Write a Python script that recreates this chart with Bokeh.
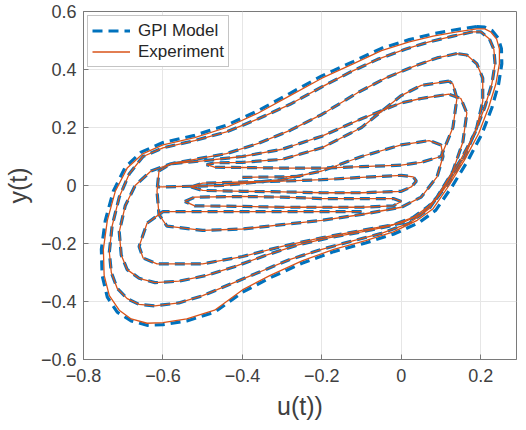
from bokeh.plotting import figure
from bokeh.models import Range1d, FixedTicker, Legend, LegendItem
from bokeh.embed import file_html
from bokeh.resources import INLINE

# ---- data (u(t), y(t)) ----
# outermost loop (experiment)
u1 = [0.19, 0.14, 0.08, 0.02, -0.05, -0.12, -0.2, -0.28, -0.36, -0.44, -0.52, -0.6, -0.65, -0.69, -0.72,
      -0.74, -0.75, -0.748, -0.735, -0.71, -0.68, -0.64, -0.6, -0.54, -0.47, -0.4, -0.33, -0.25, -0.17,
      -0.09, -0.02, 0.04, 0.08, 0.12, 0.16, 0.195, 0.22, 0.238, 0.247, 0.247, 0.24, 0.225, 0.21, 0.19]
y1 = [0.54, 0.53, 0.515, 0.495, 0.465, 0.42, 0.37, 0.31, 0.25, 0.2, 0.165, 0.14, 0.11, 0.06, -0.02,
      -0.12, -0.22, -0.31, -0.38, -0.43, -0.46, -0.475, -0.473, -0.46, -0.43, -0.36, -0.31, -0.26, -0.22,
      -0.19, -0.16, -0.12, -0.08, 0.0, 0.09, 0.18, 0.27, 0.35, 0.42, 0.47, 0.505, 0.53, 0.54, 0.54]
# outermost loop (GPI model, slightly outside the experiment)
gu1 = [0.19, 0.14, 0.08, 0.02, -0.05, -0.12, -0.2, -0.28, -0.36, -0.44, -0.52, -0.6, -0.655, -0.695, -0.725,
       -0.745, -0.755, -0.753, -0.74, -0.715, -0.68, -0.64, -0.6, -0.54, -0.47, -0.4, -0.33, -0.25, -0.17,
       -0.09, -0.02, 0.045, 0.087, 0.128, 0.168, 0.203, 0.228, 0.245, 0.253, 0.252, 0.244, 0.228, 0.21, 0.19]
gy1 = [0.548, 0.538, 0.523, 0.503, 0.473, 0.428, 0.378, 0.318, 0.258, 0.208, 0.173, 0.148, 0.115, 0.063, -0.02,
       -0.12, -0.22, -0.31, -0.385, -0.437, -0.467, -0.482, -0.48, -0.467, -0.437, -0.368, -0.318, -0.268,
       -0.228, -0.198, -0.168, -0.128, -0.085, -0.003, 0.087, 0.178, 0.268, 0.35, 0.42, 0.472, 0.508, 0.535,
       0.546, 0.548]
# second loop
u2 = [0.18, 0.13, 0.07, 0.01, -0.06, -0.13, -0.2, -0.28, -0.36, -0.44, -0.52, -0.6, -0.65, -0.685, -0.71,
      -0.728, -0.735, -0.73, -0.715, -0.69, -0.66, -0.62, -0.56, -0.5, -0.43, -0.36, -0.28, -0.2, -0.12,
      -0.05, 0.02, 0.07, 0.11, 0.15, 0.185, 0.21, 0.228, 0.236, 0.233, 0.222, 0.2, 0.18]
y2 = [0.53, 0.515, 0.495, 0.47, 0.435, 0.39, 0.34, 0.28, 0.23, 0.185, 0.155, 0.13, 0.1, 0.04, -0.04,
      -0.14, -0.23, -0.3, -0.355, -0.39, -0.41, -0.415, -0.405, -0.38, -0.34, -0.3, -0.255, -0.22, -0.19,
      -0.165, -0.13, -0.08, 0.0, 0.09, 0.18, 0.27, 0.35, 0.42, 0.47, 0.505, 0.53, 0.53]
# third loop
u3 = [0.14, 0.09, 0.03, -0.04, -0.11, -0.2, -0.28, -0.36, -0.44, -0.52, -0.58, -0.63, -0.67, -0.695, -0.71,
      -0.705, -0.69, -0.66, -0.62, -0.56, -0.49, -0.42, -0.34, -0.26, -0.18, -0.1, -0.03, 0.03, 0.08, 0.12,
      0.16, 0.19, 0.205, 0.205, 0.19, 0.165, 0.14]
y3 = [0.455, 0.44, 0.41, 0.37, 0.32, 0.245, 0.19, 0.145, 0.11, 0.09, 0.075, 0.05, 0.0, -0.07, -0.16,
      -0.24, -0.29, -0.32, -0.335, -0.33, -0.31, -0.28, -0.24, -0.205, -0.18, -0.16, -0.14, -0.11, -0.06,
      0.01, 0.1, 0.2, 0.29, 0.37, 0.42, 0.45, 0.455]
# fourth path (starts in the middle, inner loops on the left)
u4 = [-0.1, -0.3, -0.5, -0.6, -0.64, -0.66, -0.65, -0.615, -0.5, -0.4, -0.3, -0.2, -0.1, 0.0, 0.05, 0.09,
      0.13, 0.155, 0.165, 0.15, 0.12, 0.05, 0.0, -0.1, -0.2, -0.3, -0.4, -0.5, -0.58, -0.61, -0.615, -0.61,
      -0.59, -0.5, -0.4, -0.3, -0.2, -0.1, 0.0, 0.05, 0.09, 0.105, 0.1, 0.07, 0.0, -0.1, -0.2, -0.3, -0.45,
      -0.6, -0.615]
y4 = [-0.09, -0.09, -0.09, -0.09, -0.13, -0.21, -0.25, -0.27, -0.27, -0.245, -0.21, -0.18, -0.155, -0.13,
      -0.1, -0.04, 0.05, 0.15, 0.25, 0.3, 0.315, 0.3, 0.285, 0.23, 0.17, 0.125, 0.1, 0.085, 0.075, 0.05,
      -0.02, -0.1, -0.14, -0.155, -0.15, -0.135, -0.12, -0.1, -0.075, -0.04, 0.03, 0.1, 0.14, 0.155, 0.14,
      0.1, 0.05, 0.02, 0.0, -0.005, -0.005]
# loop turning at u = -0.49
u5 = [0.12, 0.05, 0.0, -0.1, -0.2, -0.3, -0.4, -0.47, -0.49, -0.47, -0.4, -0.3, -0.2, -0.1, 0.0, 0.05,
      0.1, 0.13, 0.14, 0.13, 0.12]
y5 = [0.36, 0.345, 0.31, 0.2, 0.13, 0.09, 0.08, 0.078, 0.072, 0.063, 0.062, 0.06, 0.06, 0.065, 0.07,
      0.08, 0.1, 0.2, 0.3, 0.35, 0.36]
# narrow inner loops
u6 = [-0.53, -0.5, -0.4, -0.3, -0.2, -0.1, 0.0, 0.03, 0.038, 0.025, 0.0, -0.1, -0.2, -0.3, -0.4, -0.5, -0.53]
y6 = [-0.005, 0.008, 0.012, 0.015, 0.02, 0.028, 0.035, 0.03, 0.015, -0.005, -0.02, -0.025, -0.025,
      -0.022, -0.02, -0.017, -0.005]
u7 = [-0.545, -0.52, -0.4, -0.3, -0.2, -0.1, -0.02, 0.0, -0.02, -0.1, -0.2, -0.3, -0.4, -0.52, -0.545]
y7 = [-0.055, -0.04, -0.038, -0.04, -0.045, -0.045, -0.045, -0.055, -0.07, -0.075, -0.075, -0.075,
      -0.072, -0.07, -0.055]
u8 = [-0.4, -0.3, -0.25]
y8 = [0.028, 0.03, 0.032]

x_ticks = [-0.8, -0.6, -0.4, -0.2, 0, 0.2]
y_ticks = [-0.6, -0.4, -0.2, 0, 0.2, 0.4, 0.6]

exp_u = [u1, u2, u3, u4, u5, u6, u7, u8]
exp_y = [y1, y2, y3, y4, y5, y6, y7, y8]
gpi_u = [gu1, u2, u3, u4, u5, u6, u7, u8]
gpi_y = [gy1, y2, y3, y4, y5, y6, y7, y8]

BLUE = "#0072BD"
ORANGE = "#D95319"
FONT = "Liberation Sans"

p = figure(width=518, height=422, x_range=Range1d(-0.8, 0.29), y_range=Range1d(-0.6, 0.6),
           output_backend="svg", toolbar_location=None,
           min_border_left=10, min_border_right=2, min_border_top=11, min_border_bottom=10)

p.background_fill_color = "white"
p.border_fill_color = "white"
p.outline_line_color = "#7a7a7a"
p.outline_line_width = 1

gpi = p.multi_line(xs=gpi_u, ys=gpi_y, line_color=BLUE, line_width=3.2, line_dash="10 6")
exp = p.multi_line(xs=exp_u, ys=exp_y, line_color=ORANGE, line_width=1.3)

for ax in (p.xaxis[0], p.yaxis[0]):
    ax.axis_line_color = "#7a7a7a"
    ax.major_tick_line_color = "#7a7a7a"
    ax.major_tick_in = 5
    ax.major_tick_out = 0
    ax.minor_tick_line_color = None
    ax.major_label_text_font = FONT
    ax.major_label_text_font_size = "18px"
    ax.major_label_text_color = "#404040"
    ax.axis_label_text_font = FONT
    ax.axis_label_text_font_size = "25px"
    ax.axis_label_text_font_style = "normal"
    ax.axis_label_text_color = "#404040"

p.xaxis[0].ticker = FixedTicker(ticks=x_ticks)
p.yaxis[0].ticker = FixedTicker(ticks=y_ticks)
p.xaxis[0].axis_label = "u(t))"
p.yaxis[0].axis_label = "y(t)"
p.xaxis[0].major_label_standoff = 9
p.yaxis[0].major_label_standoff = 7
p.xaxis[0].axis_label_standoff = 7
p.yaxis[0].axis_label_standoff = 6

p.xgrid.ticker = FixedTicker(ticks=x_ticks)
p.ygrid.ticker = FixedTicker(ticks=y_ticks)
p.grid.grid_line_color = "#e6e6e6"
p.grid.grid_line_width = 1

legend = Legend(items=[LegendItem(label="GPI Model", renderers=[gpi]),
                       LegendItem(label="Experiment", renderers=[exp])],
                location="top_left")
legend.margin = 4
legend.padding = 4
legend.spacing = 0
legend.label_height = 21
legend.glyph_height = 21
legend.glyph_width = 38
legend.label_standoff = 8
legend.label_text_font = FONT
legend.label_text_font_size = "17px"
legend.label_text_color = "#262626"
legend.border_line_color = "#8a8a8a"
legend.border_line_width = 1
legend.background_fill_color = "white"
legend.background_fill_alpha = 1
p.add_layout(legend, "center")

open("out.html", "w").write(file_html(p, INLINE))
